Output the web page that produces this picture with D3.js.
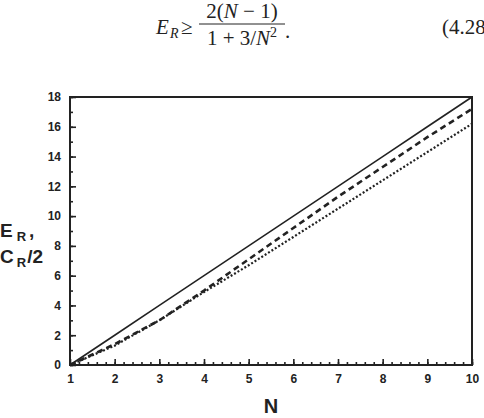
<!DOCTYPE html>
<html>
<head>
<meta charset="utf-8">
<script src="https://cdn.jsdelivr.net/npm/d3@7"></script>
<style>
  body { margin: 0; background: #fff; }
  svg { display: block; }
  .tick text { font-family: "Liberation Sans", Arial, sans-serif; font-weight: bold; font-size: 12px; fill: #222; }
  .tick line { stroke: #222; stroke-width: 1.6; }
</style>
</head>
<body>
<script>
// values
const nValues = [1, 2, 3, 4, 5, 6, 7, 8, 9, 10];
const solidSeries = [0, 2, 4, 6, 8, 10, 12, 14, 16, 18];
const dashedSeries = [0, 1.4, 3.0, 5.0, 7.1, 9.2, 11.3, 13.3, 15.3, 17.2];
const dottedSeries = [0, 1.3, 3.0, 4.9, 6.7, 8.6, 10.5, 12.4, 14.3, 16.2];
const yTicks = [0, 2, 4, 6, 8, 10, 12, 14, 16, 18];

const width = 484, height = 418;
const margin = { top: 97, bottom: 53, left: 70, right: 12 };
const chartWidth = width - margin.left - margin.right;
const chartHeight = height - margin.top - margin.bottom;

const svg = d3.select('body').append('svg')
    .attr('width', width)
    .attr('height', height);

// equation above the figure (the number runs off the right edge, as in the scan)
const eq = svg.append('g')
    .style('font-family', '"Liberation Serif", "Times New Roman", serif')
    .style('fill', '#222');
eq.append('text').attr('x', 156).attr('y', 34).style('font-size', '21px').style('font-style', 'italic').text('E');
eq.append('text').attr('x', 170).attr('y', 38).style('font-size', '14px').style('font-style', 'italic').text('R');
eq.append('text').attr('x', 181).attr('y', 34).style('font-size', '21px').text('≥');
eq.append('text').attr('x', 242).attr('y', 18).style('font-size', '21px').attr('text-anchor', 'middle')
    .html('2(<tspan font-style="italic">N</tspan> − 1)');
eq.append('line').attr('x1', 199).attr('x2', 285).attr('y1', 24).attr('y2', 24)
    .attr('stroke', '#222').attr('stroke-width', 1);
eq.append('text').attr('x', 242).attr('y', 45).style('font-size', '21px').attr('text-anchor', 'middle')
    .html('1 + 3/<tspan font-style="italic">N</tspan><tspan dy="-8" font-size="14px">2</tspan>');
eq.append('text').attr('x', 285).attr('y', 38).style('font-size', '21px').text('.');
eq.append('text').attr('x', 442).attr('y', 34).style('font-size', '21px').text('(4.28');

const chart = svg.append('g')
    .attr('transform', `translate(${margin.left},${margin.top})`);

const xScale = d3.scaleLinear().domain([1, 10]).range([0, chartWidth]);
const yScale = d3.scaleLinear().domain([0, 18]).range([chartHeight, 0]);

// minor ticks
chart.append('g')
    .attr('transform', `translate(0,${chartHeight})`)
    .call(d3.axisBottom(xScale).tickValues(d3.range(1, 10.01, 0.2)).tickSize(-3).tickFormat(''))
    .call(g => g.select('.domain').remove());
chart.append('g')
    .call(d3.axisLeft(yScale).tickValues(d3.range(0, 18.01, 1)).tickSize(-3).tickFormat(''))
    .call(g => g.select('.domain').remove());

// major ticks
chart.append('g')
    .attr('transform', `translate(0,${chartHeight})`)
    .call(d3.axisBottom(xScale).tickValues(nValues).tickSize(-6).tickPadding(9).tickFormat(d3.format('d')))
    .call(g => g.select('.domain').remove());
chart.append('g')
    .call(d3.axisLeft(yScale).tickValues(yTicks).tickSize(-6).tickPadding(9).tickFormat(d3.format('d')))
    .call(g => g.select('.domain').remove());

chart.append('rect')
    .attr('width', chartWidth).attr('height', chartHeight)
    .attr('fill', 'none').attr('stroke', '#222').attr('stroke-width', 2);

const line = d3.line()
    .x((d, i) => xScale(nValues[i]))
    .y(d => yScale(d));

chart.append('path').datum(solidSeries)
    .attr('d', line).attr('fill', 'none')
    .attr('stroke', '#222').attr('stroke-width', 1.6);
chart.append('path').datum(dashedSeries)
    .attr('d', line).attr('fill', 'none')
    .attr('stroke', '#222').attr('stroke-width', 2.6).attr('stroke-dasharray', '6,4');
chart.append('path').datum(dottedSeries)
    .attr('d', line).attr('fill', 'none')
    .attr('stroke', '#222').attr('stroke-width', 2.2).attr('stroke-dasharray', '2,2');

// axis titles
svg.append('text')
    .attr('x', margin.left + chartWidth / 2).attr('y', 413)
    .attr('text-anchor', 'middle')
    .style('font-family', '"Liberation Sans", Arial, sans-serif')
    .style('font-weight', 'bold').style('font-size', '20px').style('fill', '#222')
    .text('N');

const yTitle = svg.append('g')
    .style('font-family', '"Liberation Sans", Arial, sans-serif')
    .style('font-weight', 'bold').style('fill', '#222');
yTitle.append('text').attr('x', 0).attr('y', 237).style('font-size', '19px')
    .html('E<tspan dx="4" dy="4" font-size="13px">R</tspan><tspan dx="3" dy="-4">,</tspan>');
yTitle.append('text').attr('x', 0).attr('y', 263).style('font-size', '19px')
    .html('C<tspan dx="3" dy="4" font-size="13px">R</tspan><tspan dx="1" dy="-4">/2</tspan>');
</script>
</body>
</html>
